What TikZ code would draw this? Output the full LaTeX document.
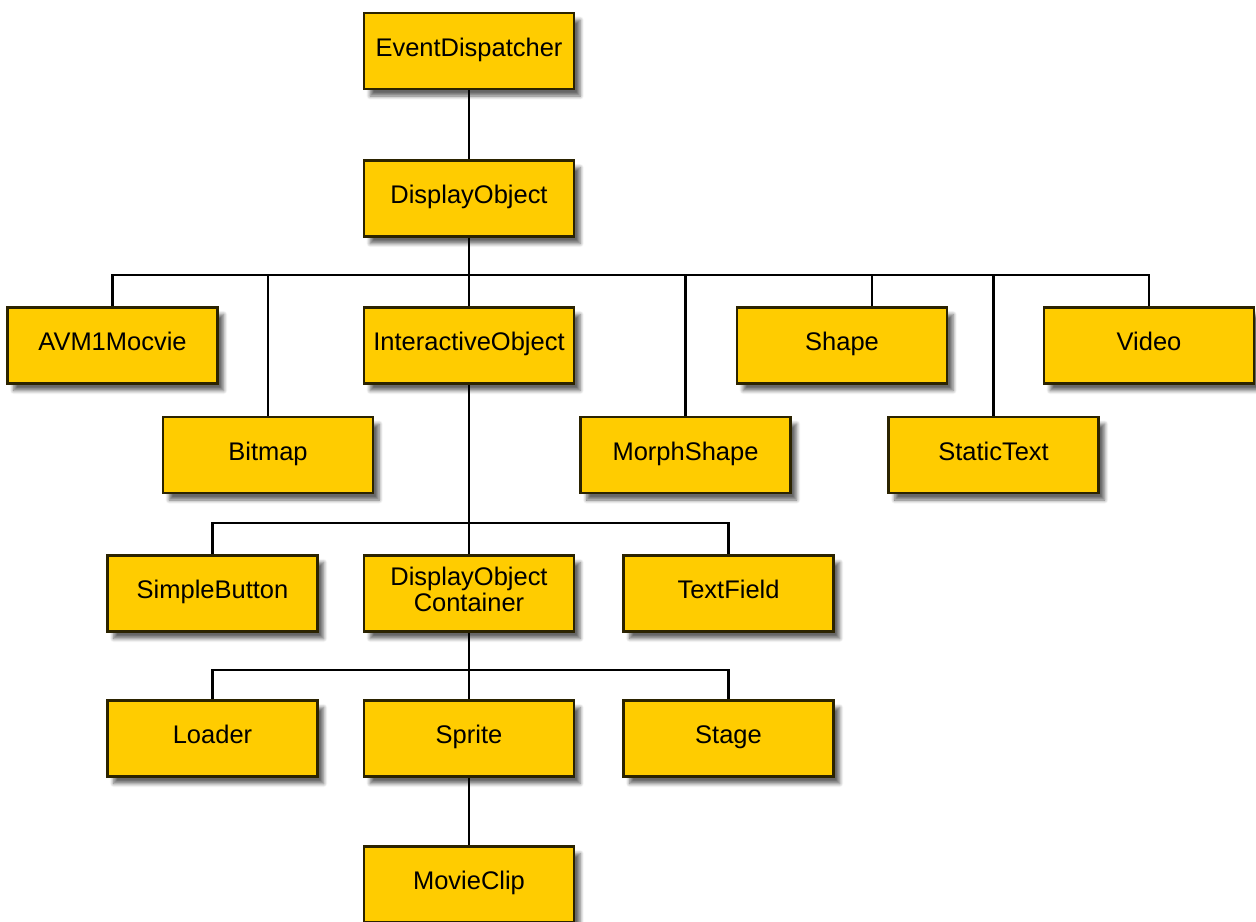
\documentclass[tikz,border=0pt]{standalone}
\usepackage{fontspec}
\setmainfont{Liberation Sans}
\usepackage{tikz}
\usetikzlibrary{shadows.blur}
\definecolor{boxfill}{HTML}{FFCC00}
\definecolor{boxline}{HTML}{2B2300}

\begin{document}
\begin{tikzpicture}[cls/.style={draw=boxline, line width=1.4pt, fill=boxfill,
      minimum width=4.2cm, minimum height=1.52cm, inner sep=1pt, align=center,
      font=\fontsize{14.5}{15}\selectfont, execute at begin node=\strut,
      blur shadow={shadow xshift=3.5pt, shadow yshift=-4pt, shadow opacity=60, shadow blur steps=6}},
    link/.style={line width=1.2pt, black}]
    \useasboundingbox (0, 0) rectangle (25.12, -18.42);
    \node [cls] (evt) at (9.38, -1.02) {EventDispatcher};
    \node [cls] (disp) at (9.38, -3.97) {DisplayObject};
    \node [cls] (avm) at (2.25, -6.91) {AVM1Mocvie};
    \node [cls] (inter) at (9.38, -6.91) {InteractiveObject};
    \node [cls] (shape) at (16.84, -6.91) {Shape};
    \node [cls] (video) at (22.98, -6.91) {Video};
    \node [cls] (bitmap) at (5.36, -9.10) {Bitmap};
    \node [cls] (morph) at (13.71, -9.10) {MorphShape};
    \node [cls] (stext) at (19.87, -9.10) {StaticText};
    \node [cls] (button) at (4.25, -11.87) {SimpleButton};
    \node [cls] (cont) at (9.38, -11.87) {DisplayObject\\Container};
    \node [cls] (tfield) at (14.57, -11.87) {TextField};
    \node [cls] (loader) at (4.25, -14.77) {Loader};
    \node [cls] (sprite) at (9.38, -14.77) {Sprite};
    \node [cls] (stage) at (14.57, -14.77) {Stage};
    \node [cls] (clip) at (9.38, -17.69) {MovieClip};
    \coordinate (bus1) at (9.38, -5.5);
    \coordinate (bus2) at (9.38, -10.46);
    \coordinate (bus3) at (9.38, -13.4);
    \draw [link] (evt) to (disp);
    \draw [link] (disp.south) -- (bus1) -| (avm.north);
    \draw [link] (bus1) -| (bitmap.north);
    \draw [link] (disp.south) -- (inter.north);
    \draw [link] (bus1) -| (morph.north);
    \draw [link] (bus1) -| ([xshift=0.6cm]shape.north);
    \draw [link] (bus1) -| (stext.north);
    \draw [link] (bus1) -| (video.north);
    \draw [link] (inter.south) -- (cont.north);
    \draw [link] (bus2) -| (button.north);
    \draw [link] (bus2) -| (tfield.north);
    \draw [link] (cont.south) -- (sprite.north);
    \draw [link] (bus3) -| (loader.north);
    \draw [link] (bus3) -| (stage.north);
    \draw [link] (sprite) to (clip);
  \end{tikzpicture}
\end{document}
